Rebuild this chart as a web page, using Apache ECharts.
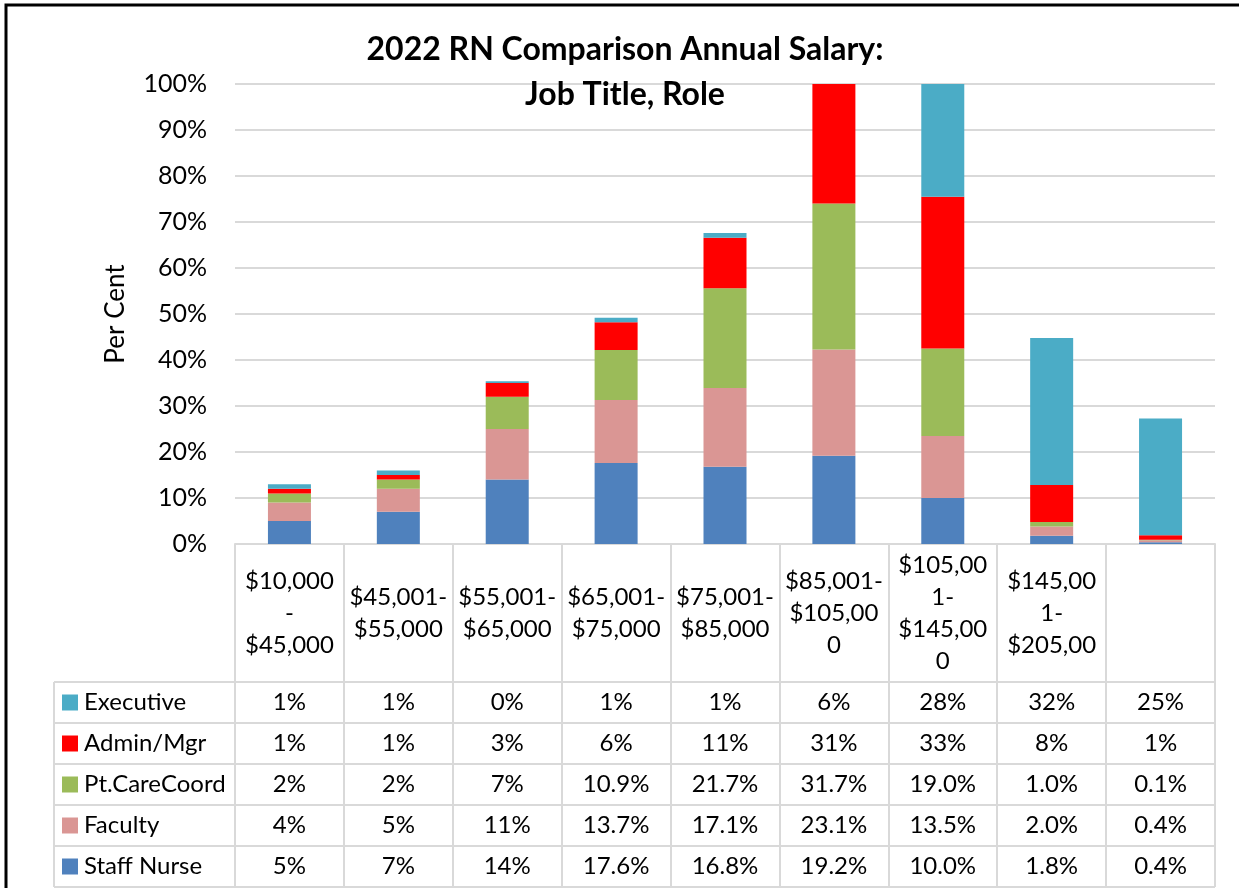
<!DOCTYPE html>
<html>
<head>
<meta charset="utf-8">
<script src="https://cdn.jsdelivr.net/npm/echarts@6/dist/echarts.min.js"></script>
<style>
    html, body { margin: 0; padding: 0; background: #fff; }
    #chart { width: 1239px; height: 888px; }
</style>
</head>
<body>
<div id="chart"></div>
<script>
// salary bands (wrapped the way the table header shows them)
const categories = [
    '$10,000\n-\n$45,000',
    '$45,001-\n$55,000',
    '$55,001-\n$65,000',
    '$65,001-\n$75,000',
    '$75,001-\n$85,000',
    '$85,001-\n$105,00\n0',
    '$105,00\n1-\n$145,00\n0',
    '$145,00\n1-\n$205,00',
    ''
]
const staffNurse = [5, 7, 14, 17.6, 16.8, 19.2, 10.0, 1.8, 0.4]
const faculty = [4, 5, 11, 13.7, 17.1, 23.1, 13.5, 2.0, 0.4]
const ptCareCoord = [2, 2, 7, 10.9, 21.7, 31.7, 19.0, 1.0, 0.1]
const adminMgr = [1, 1, 3, 6, 11, 31, 33, 8, 1]
const executive = [1, 1, 0.4, 1, 1, 6, 28, 32, 25.4]
const yTicks = [0, 10, 20, 30, 40, 50, 60, 70, 80, 90, 100]

const FONT = 'Lato'
const GRID_LINE = '#d9d9d9'

// bottom to top in the stack
const seriesDefs = [
    { name: 'Staff Nurse', data: staffNurse, color: '#4f81bd', oneDecimalFrom: 3 },
    { name: 'Faculty', data: faculty, color: '#da9694', oneDecimalFrom: 3 },
    { name: 'Pt.CareCoord', data: ptCareCoord, color: '#9bbb59', oneDecimalFrom: 3 },
    { name: 'Admin/Mgr', data: adminMgr, color: '#ff0000', oneDecimalFrom: null },
    { name: 'Executive', data: executive, color: '#4bacc6', oneDecimalFrom: null }
]

function cellText(def, col) {
    const v = def.data[col]
    if (def.oneDecimalFrom !== null && col >= def.oneDecimalFrom) {
        return v.toFixed(1) + '%'
    }
    return Math.round(v) + '%'
}

const chart = echarts.init(document.getElementById('chart'))

chart.setOption({
    animation: false,
    textStyle: { fontFamily: FONT },
    grid: {
        left: 235,
        right: 24,
        top: 84,
        bottom: 344,
        containLabel: false
    },
    xAxis: {
        type: 'category',
        data: categories,
        axisLine: { show: true, lineStyle: { color: GRID_LINE, width: 2 } },
        // ticks double as the table's column lines
        axisTick: {
            show: true,
            interval: 0,
            length: 343,
            lineStyle: { color: GRID_LINE, width: 2 }
        },
        axisLabel: {
            interval: 0,
            margin: 69,
            verticalAlign: 'middle',
            lineHeight: 32,
            fontSize: 24,
            fontFamily: FONT,
            color: '#000'
        }
    },
    yAxis: {
        type: 'value',
        min: yTicks[0],
        max: yTicks[yTicks.length - 1],
        interval: yTicks[1] - yTicks[0],
        name: 'Per Cent',
        nameLocation: 'middle',
        nameGap: 106,
        nameRotate: 90,
        nameTextStyle: { fontSize: 26, fontFamily: FONT, color: '#000' },
        axisLine: { show: false },
        axisTick: { show: false },
        axisLabel: {
            formatter: '{value}%',
            fontSize: 25,
            fontFamily: FONT,
            color: '#000',
            margin: 28
        },
        splitLine: { lineStyle: { color: GRID_LINE, width: 2 } }
    },
    series: seriesDefs.map(function (d) {
        return {
            name: d.name,
            type: 'bar',
            stack: 'total',
            barWidth: 43,
            data: d.data,
            itemStyle: { color: d.color }
        }
    })
})

// data table under the plot, placed from the axes
function drawTable() {
    const x0 = chart.convertToPixel({ xAxisIndex: 0 }, 0)
    const x1 = chart.convertToPixel({ xAxisIndex: 0 }, 1)
    const band = x1 - x0
    const left = x0 - band / 2
    const right = left + band * categories.length
    const axisY = chart.convertToPixel({ yAxisIndex: 0 }, 0)
    const headerBottom = axisY + 138
    const rowH = 41
    const tableLeft = 54
    const rows = seriesDefs.slice().reverse()
    const els = []

    for (let r = 0; r <= rows.length; r++) {
        const y = headerBottom + r * rowH
        els.push({
            type: 'line',
            shape: { x1: tableLeft, y1: y, x2: right, y2: y },
            style: { stroke: GRID_LINE, lineWidth: 2 }
        })
    }
    els.push({
        type: 'line',
        shape: { x1: tableLeft, y1: headerBottom, x2: tableLeft, y2: headerBottom + rowH * rows.length },
        style: { stroke: GRID_LINE, lineWidth: 2 }
    })

    rows.forEach(function (def, r) {
        const cy = headerBottom + r * rowH + rowH / 2
        els.push({
            type: 'rect',
            shape: { x: 62, y: cy - 8, width: 16, height: 16 },
            style: { fill: def.color }
        })
        els.push({
            type: 'text',
            x: 84,
            y: cy,
            style: {
                text: def.name,
                font: '24px ' + FONT,
                fill: '#000',
                textAlign: 'left',
                textVerticalAlign: 'middle'
            }
        })
        def.data.forEach(function (v, c) {
            els.push({
                type: 'text',
                x: chart.convertToPixel({ xAxisIndex: 0 }, c),
                y: cy,
                style: {
                    text: cellText(def, c),
                    font: '24px ' + FONT,
                    fill: '#000',
                    textAlign: 'center',
                    textVerticalAlign: 'middle'
                }
            })
        })
    })

    // title, centred as in the source
    els.push({
        type: 'text',
        x: 625,
        y: 50,
        style: {
            text: '2022 RN Comparison Annual Salary:',
            font: 'bold 32px ' + FONT,
            fill: '#000',
            textAlign: 'center',
            textVerticalAlign: 'middle'
        }
    })
    els.push({
        type: 'text',
        x: 625,
        y: 95,
        style: {
            text: 'Job Title, Role',
            font: 'bold 32px ' + FONT,
            fill: '#000',
            textAlign: 'center',
            textVerticalAlign: 'middle'
        }
    })

    // outer frame (top and left edges are what show in the crop)
    els.push({
        type: 'polyline',
        shape: { points: [[6, 888], [6, 5], [1239, 5]] },
        style: { stroke: '#000', lineWidth: 3, fill: null }
    })

    chart.setOption({ graphic: els })
}

drawTable()
</script>
</body>
</html>
